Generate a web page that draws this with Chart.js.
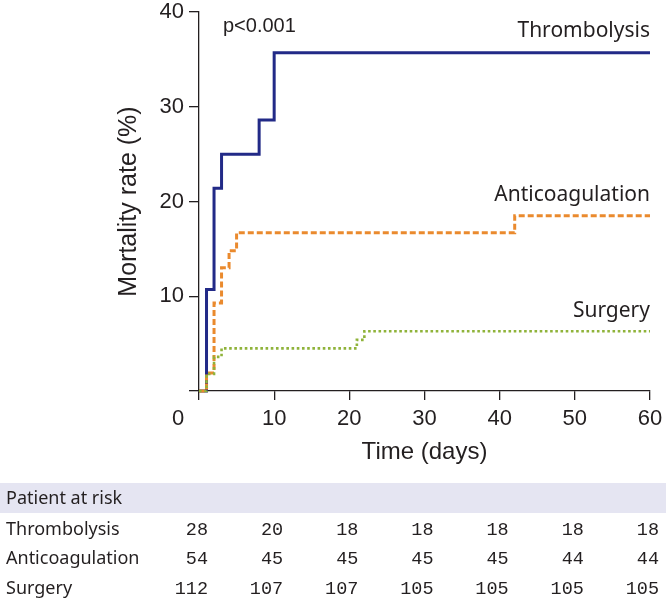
<!DOCTYPE html>
<html>
<head>
<meta charset="utf-8">
<script src="https://cdn.jsdelivr.net/npm/chart.js@4/dist/chart.umd.min.js"></script>
<style>
  html, body { margin: 0; padding: 0; background: #ffffff; }
  #wrap { width: 668px; height: 601px; position: relative; }
</style>
</head>
<body>
<div id="wrap"><canvas id="c" width="668" height="601"></canvas></div>
<script>
// ---- Data ----
const thrombolysisDays   = [0, 1, 2, 3, 8, 10, 60];
const thrombolysisRate   = [0, 10.7, 21.4, 25.0, 28.6, 35.7, 35.7];
const anticoagDays       = [0, 1, 2, 3, 4, 5, 42, 60];
const anticoagRate       = [0, 1.9, 9.3, 13.0, 14.8, 16.7, 18.5, 18.5];
const surgeryDays        = [0, 1, 2, 3, 21, 22, 60];
const surgeryRate        = [0, 1.8, 3.6, 4.5, 5.4, 6.3, 6.3];

const seriesNames  = ["Thrombolysis", "Anticoagulation", "Surgery"];
const riskDays     = [0, 10, 20, 30, 40, 50, 60];
const riskThrombolysis = [28, 20, 18, 18, 18, 18, 18];
const riskAnticoag     = [54, 45, 45, 45, 45, 44, 44];
const riskSurgery      = [112, 107, 107, 105, 105, 105, 105];
const xTicks = [0, 10, 20, 30, 40, 50, 60];
const yTicks = [0, 10, 20, 30, 40];
const pValueText = "p<0.001";
const xTitle = "Time (days)";
const yTitle = "Mortality rate (%)";
const tableTitle = "Patient at risk";

const toPts = (xs, ys) => xs.map((x, i) => ({ x: x, y: ys[i] }));

const TEXT = "#231f20";
const AXIS = "#231f20";

const annot = {
  id: "annot",
  afterDraw(chart) {
    const ctx = chart.ctx;
    const xs = chart.scales.x, ys = chart.scales.y;
    ctx.save();
    // p-value
    ctx.fillStyle = TEXT;
    ctx.font = "20px 'Liberation Sans', Arial, sans-serif";
    ctx.textAlign = "left";
    ctx.textBaseline = "alphabetic";
    ctx.fillText(pValueText, 223, 32);
    // origin "0"
    ctx.font = "22px 'Liberation Sans', Arial, sans-serif";
    ctx.textAlign = "center";
    ctx.textBaseline = "alphabetic";
    ctx.fillText("0", xs.left - 21, 425);
    // series labels
    ctx.font = "21px 'Noto Sans', sans-serif";
    ctx.textAlign = "right";
    ctx.fillText(seriesNames[0], xs.right, 37);
    ctx.fillText(seriesNames[1], xs.right, 201);
    ctx.fillText(seriesNames[2], xs.right, 317);
    // risk table
    ctx.fillStyle = "#e5e5f2";
    ctx.fillRect(0, 483, 666, 30);
    ctx.fillStyle = TEXT;
    ctx.font = "18px 'Noto Sans', sans-serif";
    ctx.textAlign = "left";
    ctx.fillText(tableTitle, 6, 504);
    const rows = [riskThrombolysis, riskAnticoag, riskSurgery];
    const baselines = [535, 564, 594];
    rows.forEach((row, r) => {
      ctx.font = "18px 'Noto Sans', sans-serif";
      ctx.textAlign = "left";
      ctx.fillText(seriesNames[r], 6, baselines[r]);
      ctx.font = "18.5px 'Liberation Mono', monospace";
      ctx.textAlign = "right";
      row.forEach((v, i) => {
        ctx.fillText(String(v), xs.getPixelForValue(riskDays[i]) + 9, baselines[r]);
      });
    });
    ctx.restore();
  }
};

new Chart(document.getElementById("c"), {
  type: "line",
  data: {
    datasets: [
      {
        label: seriesNames[0],
        data: toPts(thrombolysisDays, thrombolysisRate),
        borderColor: "#222a87",
        borderWidth: 3,
        stepped: "before",
        pointRadius: 0,
        fill: false,
        clip: 6,
        order: 3
      },
      {
        label: seriesNames[1],
        data: toPts(anticoagDays, anticoagRate),
        borderColor: "#ea8a2e",
        borderWidth: 3,
        borderDash: [6, 3],
        stepped: "before",
        pointRadius: 0,
        fill: false,
        clip: 6,
        order: 2
      },
      {
        label: seriesNames[2],
        data: toPts(surgeryDays, surgeryRate),
        borderColor: "#8fb33a",
        borderWidth: 2.6,
        borderDash: [2.6, 2.6],
        stepped: "before",
        pointRadius: 0,
        fill: false,
        clip: 6,
        order: 1
      }
    ]
  },
  options: {
    responsive: false,
    animation: false,
    events: [],
    layout: { padding: { top: 12, right: 18, bottom: 130, left: 0 } },
    plugins: { legend: { display: false }, tooltip: { enabled: false } },
    scales: {
      x: {
        type: "linear",
        min: 0, max: 60,
        afterFit: s => { s.height = 80; s.paddingLeft = 0; s.paddingRight = 0; },
        afterBuildTicks: s => { s.ticks = xTicks.map(v => ({ value: v })); },
        ticks: {
          color: TEXT,
          font: { family: "'Liberation Sans', Arial, sans-serif", size: 22 },
          padding: 6,
          maxRotation: 0,
          callback: v => (v === 0 ? "" : String(v))
        },
        grid: { drawOnChartArea: false, drawTicks: true, tickLength: 9, color: AXIS, lineWidth: 1.3 },
        border: { display: true, color: AXIS, width: 1.3 },
        title: {
          display: true, text: xTitle, color: TEXT,
          font: { family: "'Liberation Sans', Arial, sans-serif", size: 24 },
          padding: { top: 0, bottom: 4 }
        }
      },
      y: {
        type: "linear",
        min: 0, max: 40,
        afterFit: s => { s.width = 199; s.paddingTop = 0; s.paddingBottom = 0; },
        afterBuildTicks: s => { s.ticks = yTicks.map(v => ({ value: v })); },
        ticks: {
          color: TEXT,
          font: { family: "'Liberation Sans', Arial, sans-serif", size: 22 },
          padding: 5,
          callback: v => (v === 0 ? "" : String(v))
        },
        grid: { drawOnChartArea: false, drawTicks: true, tickLength: 10, color: AXIS, lineWidth: 1.3 },
        border: { display: true, color: AXIS, width: 1.3 },
        title: {
          display: true, text: yTitle, color: TEXT,
          font: { family: "'Liberation Sans', Arial, sans-serif", size: 25 },
          padding: { top: 114, bottom: 0 }
        }
      }
    }
  },
  plugins: [annot]
});
</script>
</body>
</html>
